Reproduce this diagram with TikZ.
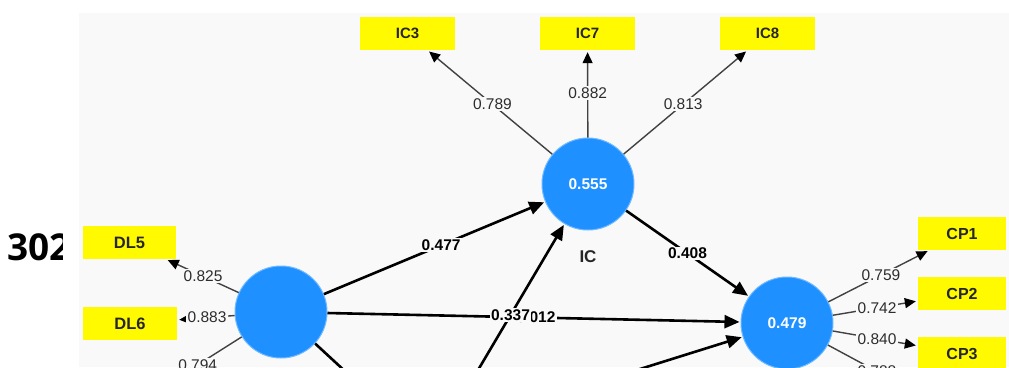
\documentclass[tikz,border=0pt]{standalone}
\usepackage{fontspec}
\setmainfont{Liberation Sans}
\newfontfamily\bigfont{Open Sans}
\usetikzlibrary{arrows.meta}
\definecolor{panel}{RGB}{249,249,249}
\definecolor{ybox}{RGB}{255,250,0}
\definecolor{lvblue}{RGB}{30,144,255}
\definecolor{lvrim}{RGB}{110,185,255}
\definecolor{ltext}{RGB}{45,45,45}
\definecolor{lline}{RGB}{65,65,65}
\tikzset{
  lv/.style={circle, fill=lvblue, draw=lvrim, line width=1pt, minimum size=92pt, inner sep=0pt,
    text=white, font=\bfseries\fontsize{15.5}{15.5}\selectfont},
  ind/.style={rectangle, fill=ybox, minimum width=#1, minimum height=33pt, inner sep=0pt,
    text=black!85, font=\bfseries\fontsize{15}{15}\selectfont},
  load/.style={draw=lline, line width=1.4pt, -{Triangle[length=11pt,width=10pt,color=black]}, shorten >=2pt},
  struct/.style={draw=black, line width=2.6pt, -{Triangle[length=15pt,width=13pt]}, shorten >=1pt},
  lab/.style={fill=panel, inner sep=1.5pt, text=ltext, font=\fontsize{15.5}{15.5}\selectfont},
  plab/.style={fill=panel, inner sep=1.5pt, text=black, font=\bfseries\fontsize{15.5}{15.5}\selectfont},
}
\begin{document}
\begin{tikzpicture}[x=1pt,y=-1pt]
\useasboundingbox (0,0) rectangle (1009,367);
\clip (0,0) rectangle (1009,367);
\fill[white] (0,0) rectangle (1009,367);
\begin{scope}
  \clip (0,0) rectangle (62,367);
  \node[anchor=base west, inner sep=0pt, font=\bigfont\bfseries\fontsize{37}{37}\selectfont] (num) at (7,260) {302};
\end{scope}
\fill[panel] (79,13) rectangle (1009,367);

% latent variables
\node[lv] (ic) at (588,184) {0.555};
\node[lv] (dl) at (281,312) {};
\node[lv] (cp) at (787,323) {0.479};
\node[text=black!85, font=\bfseries\fontsize{17}{17}\selectfont] (iclab) at (588,257) {IC};

% indicators
\node[ind=95pt] (ic3) at (407.5,33.5) {IC3};
\node[ind=95pt] (ic7) at (587.5,33.5) {IC7};
\node[ind=95pt] (ic8) at (767.5,33.5) {IC8};
\node[ind=93pt, font=\bfseries\fontsize{16.5}{16.5}\selectfont] (dl5) at (129.5,242.5) {DL5};
\node[ind=94pt, font=\bfseries\fontsize{16.5}{16.5}\selectfont] (dl6) at (130,323.5) {DL6};
\node[ind=88pt, font=\bfseries\fontsize{16}{16}\selectfont] (cp1) at (962,233.5) {CP1};
\node[ind=88pt, font=\bfseries\fontsize{16}{16}\selectfont] (cp2) at (962,293.5) {CP2};
\node[ind=88pt, font=\bfseries\fontsize{16}{16}\selectfont] (cp3) at (962,353.5) {CP3};

% off-picture ends
\coordinate (bot) at (442,431);
\coordinate (dl7) at (150,395);
\coordinate (dlout) at (400,422);
\coordinate (cp4) at (930,400);

% loadings
\draw[load] (ic) -- (ic3) node[lab, pos=0.48] (l1) {0.789};
\draw[load] (ic) -- (ic7) node[lab, pos=0.51] (l2) {0.882};
\draw[load] (ic) -- (ic8) node[lab, pos=0.48] (l3) {0.813};
\draw[load] (dl) -- (dl5) node[lab, pos=0.49] (l4) {0.825};
\draw[load] (dl) -- (dl6) node[lab, pos=0.48] (l5) {0.883};
\draw[load] (dl) -- (dl7) node[lab, pos=0.48] (l6) {0.794};
\draw[load] (cp) -- (cp1) node[lab, pos=0.52] (l7) {0.759};
\draw[load] (cp) -- (cp2) node[lab, pos=0.52] (l8) {0.742};
\draw[load] (cp) -- (cp3) node[lab, pos=0.52] (l9) {0.840};
\draw[load] (cp) -- (cp4) node[lab, pos=0.48] (l10) {0.788};

% structural paths
\draw[struct] (dl) -- (ic) node[plab, pos=0.53] (p1) {0.477};
\draw[struct] (ic) -- (cp) node[plab, pos=0.50] (p2) {0.408};
\draw[struct] (dl) -- (cp) node[plab, pos=0.505] (p3) {0.012};
\draw[struct] (dl) -- (dlout);
\draw[struct] (bot) -- (cp);
\draw[struct] (bot) -- (ic) node[plab, pos=0.56] (p4) {0.337};
\end{tikzpicture}
\end{document}
